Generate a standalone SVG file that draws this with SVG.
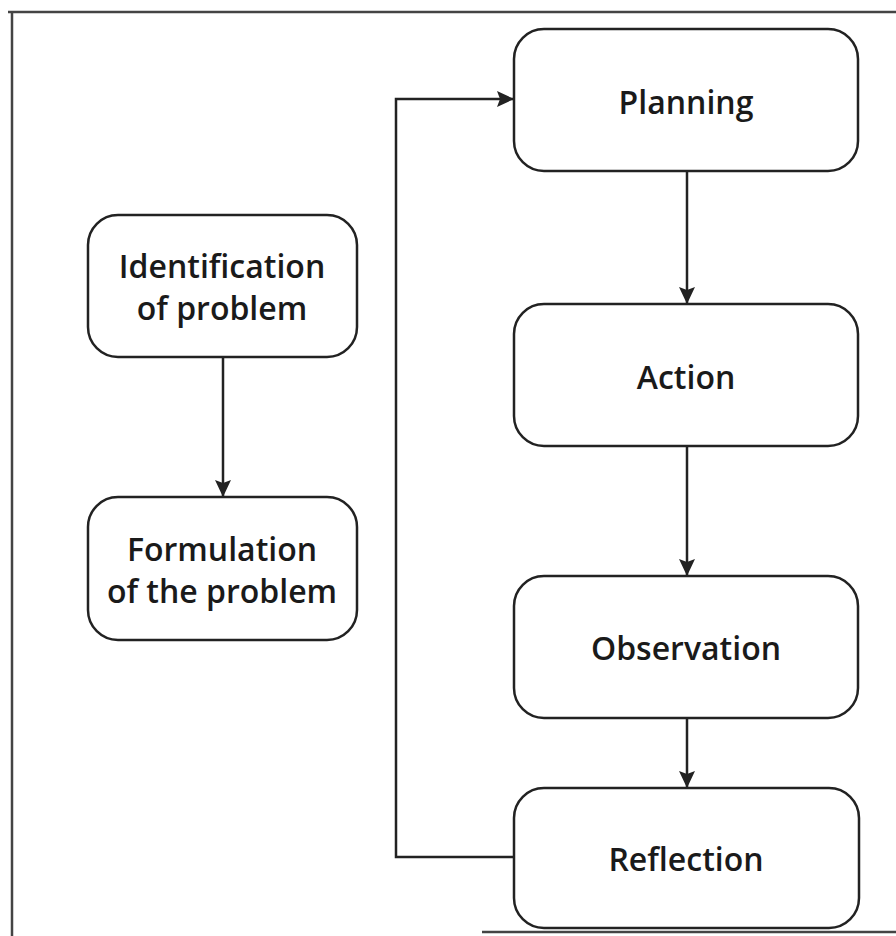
<svg xmlns="http://www.w3.org/2000/svg" width="896" height="936" viewBox="0 0 896 936">
<style>
.box{fill:#fff;stroke:#222;stroke-width:2.5}
.lbl{font-family:"Open Sans","Noto Sans",sans-serif;font-weight:600;font-size:32px;fill:#1a1a1a;text-anchor:middle}
.con{fill:none;stroke:#222;stroke-width:2.5}
.frame{stroke:#444;stroke-width:2.5;fill:none}
</style>
<defs>
<marker id="ah" viewBox="0 0 17 16" refX="16" refY="8" markerWidth="17" markerHeight="16" markerUnits="userSpaceOnUse" orient="auto">
<path d="M0,0 L17,8 L0,16 L3,8 Z" fill="#222"/>
</marker>
</defs>
<rect width="896" height="936" fill="#fff"/>
<path class="frame" d="M8,12 H896 M12,12 V936 M482,932 H896"/>
<g id="connectors">
<line class="con" x1="223" y1="358" x2="223" y2="496" marker-end="url(#ah)"/>
<line class="con" x1="687" y1="172" x2="687" y2="303" marker-end="url(#ah)"/>
<line class="con" x1="687" y1="447" x2="687" y2="575" marker-end="url(#ah)"/>
<line class="con" x1="687" y1="719" x2="687" y2="787" marker-end="url(#ah)"/>
<polyline class="con" points="514,857 396,857 396,99 513,99" marker-end="url(#ah)"/>
</g>
<g id="identification">
<rect class="box" x="88" y="215" width="269" height="142" rx="30"/>
<text class="lbl" x="222" y="278">Identification</text>
<text class="lbl" x="222" y="320">of problem</text>
</g>
<g id="formulation">
<rect class="box" x="88" y="497" width="269" height="143" rx="30"/>
<text class="lbl" x="222" y="561">Formulation</text>
<text class="lbl" x="222" y="603">of the problem</text>
</g>
<g id="planning">
<rect class="box" x="514" y="29" width="344" height="142" rx="30"/>
<text class="lbl" x="686" y="114">Planning</text>
</g>
<g id="action">
<rect class="box" x="514" y="304" width="344" height="142" rx="30"/>
<text class="lbl" x="686" y="389">Action</text>
</g>
<g id="observation">
<rect class="box" x="514" y="576" width="344" height="142" rx="30"/>
<text class="lbl" x="686" y="660">Observation</text>
</g>
<g id="reflection">
<rect class="box" x="514" y="788" width="345" height="140" rx="30"/>
<text class="lbl" x="686" y="871">Reflection</text>
</g>
</svg>
